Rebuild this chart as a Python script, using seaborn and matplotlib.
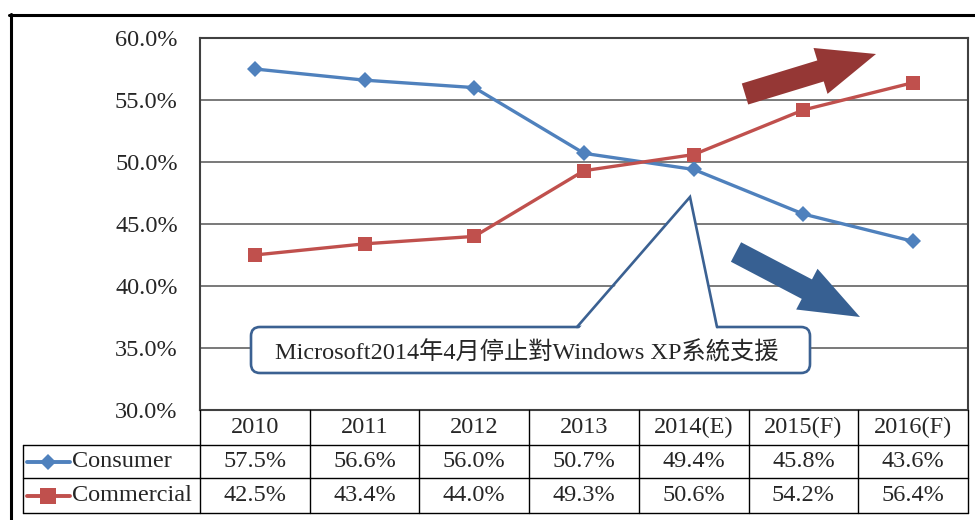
import matplotlib
matplotlib.use("Agg")
import matplotlib.pyplot as plt
import matplotlib.transforms as mtransforms
from matplotlib.lines import Line2D
from matplotlib.patches import FancyBboxPatch, Polygon, FancyArrow
import numpy as np
import pandas as pd
import seaborn as sns

# ------------------------------------------------------------------
# Data
# ------------------------------------------------------------------
years = ['2010', '2011', '2012', '2013', '2014(E)', '2015(F)', '2016(F)']
consumer = [57.5, 56.6, 56.0, 50.7, 49.4, 45.8, 43.6]
commercial = [42.5, 43.4, 44.0, 49.3, 50.6, 54.2, 56.4]
series_names = ['Consumer', 'Commercial']
note_text = 'Microsoft2014年4月停止對Windows XP系統支援'

blue = '#4F81BD'
red = '#C0504D'
fs = 17.5

sns.set_style('white')
plt.rcParams['font.family'] = ['Liberation Serif', 'Noto Sans CJK TC', 'DejaVu Sans']

W, H = 975, 520
fig = plt.figure(figsize=(W / 100, H / 100), dpi=100)
fig.patch.set_facecolor('white')

# pixel coordinates measured from the top left corner
pix = mtransforms.Affine2D().scale(1 / W, -1 / H).translate(0, 1) + fig.transFigure

# plot area
L, T, R, B = 200, 38, 968, 410
ax = fig.add_axes([L / W, 1 - B / H, (R - L) / W, (B - T) / H])

sns.lineplot(x=years, y=consumer, color=blue, linewidth=2.4, marker='D',
             markersize=8.5, markeredgewidth=0, sort=False, ax=ax)
sns.lineplot(x=years, y=commercial, color=red, linewidth=2.4, marker='s',
             markersize=10.5, markeredgewidth=0, sort=False, ax=ax)

ax.set_xlim(-0.5, len(years) - 0.5)
ax.set_ylim(30, 60)
yt = np.arange(30, 61, 5)
ax.set_yticks(yt)
ax.set_yticklabels([f'{v:.1f}%' for v in yt], fontsize=fs)
ax.tick_params(axis='y', length=0, pad=16)
ax.tick_params(axis='x', length=0, labelbottom=False)
ax.set_xlabel('')
ax.set_ylabel('')
ax.grid(axis='y', color='#6e6e6e', linewidth=1.3)
ax.grid(axis='x', visible=False)
ax.set_axisbelow(True)
for s in ax.spines.values():
    s.set_color('#404040')
    s.set_linewidth(1.5)

# ------------------------------------------------------------------
# Data table below the plot
# ------------------------------------------------------------------
tx = mtransforms.blended_transform_factory(ax.transData, pix)
rows_y = [410, 445, 478, 513]
leg_left = 23

def pline(xs, ys, trans, **kw):
    fig.add_artist(Line2D(xs, ys, transform=trans, color='black', linewidth=1.0, **kw))

for yy in rows_y[1:]:
    pline([leg_left, R], [yy, yy], pix)
pline([leg_left, leg_left], [rows_y[1], rows_y[3]], pix)
for i in range(len(years) + 1):
    pline([i - 0.5, i - 0.5], [rows_y[0], rows_y[3]], tx)

for i, yr in enumerate(years):
    fig.text(i, (rows_y[0] + rows_y[1]) / 2, yr, transform=tx, ha='center',
             va='center', fontsize=fs)
    fig.text(i, (rows_y[1] + rows_y[2]) / 2, f'{consumer[i]:.1f}%', transform=tx,
             ha='center', va='center', fontsize=fs)
    fig.text(i, (rows_y[2] + rows_y[3]) / 2, f'{commercial[i]:.1f}%', transform=tx,
             ha='center', va='center', fontsize=fs)

# legend keys inside the table
for k, (name, col, mk, ms) in enumerate(zip(series_names, [blue, red], ['D', 's'], [8.5, 11])):
    yc = (rows_y[k + 1] + rows_y[k + 2]) / 2
    fig.add_artist(Line2D([27, 48, 70], [yc, yc, yc], transform=pix, color=col,
                          linewidth=2.8, marker=mk, markersize=ms, markeredgewidth=0,
                          markevery=[1]))
    fig.text(72, yc, name, transform=pix, ha='left', va='center', fontsize=fs)

# ------------------------------------------------------------------
# Trend arrows
# ------------------------------------------------------------------
fig.add_artist(FancyArrow(745, 94, 131, -40, width=22, head_width=48, head_length=58,
                          length_includes_head=True, transform=pix,
                          color='#953735', linewidth=0))
fig.add_artist(FancyArrow(736, 252, 124, 65, width=22, head_width=46, head_length=60,
                          length_includes_head=True, transform=pix,
                          color='#376092', linewidth=0))

# ------------------------------------------------------------------
# Callout
# ------------------------------------------------------------------
ec = '#3B6192'
fig.add_artist(FancyBboxPatch((251, 327), 559, 46,
                              boxstyle='round,pad=0,rounding_size=9',
                              transform=pix, facecolor='white', edgecolor=ec,
                              linewidth=1.9))
fig.add_artist(Polygon([(577, 331), (690, 197), (717, 331)], closed=True,
                       transform=pix, facecolor='white', edgecolor='none'))
fig.add_artist(Line2D([577, 690, 717], [327, 197, 327], transform=pix, color=ec,
                      linewidth=1.9, solid_joinstyle='miter'))
fig.text(527, 353, note_text, transform=pix, ha='center', va='center', fontsize=fs)

# outer frame
fig.add_artist(Line2D([9, W], [14.5, 14.5], transform=pix, color='black', linewidth=2.2))
fig.add_artist(Line2D([10.5, 10.5], [13.5, H], transform=pix, color='black', linewidth=2.2))

fig.savefig('out.png', dpi=100)
